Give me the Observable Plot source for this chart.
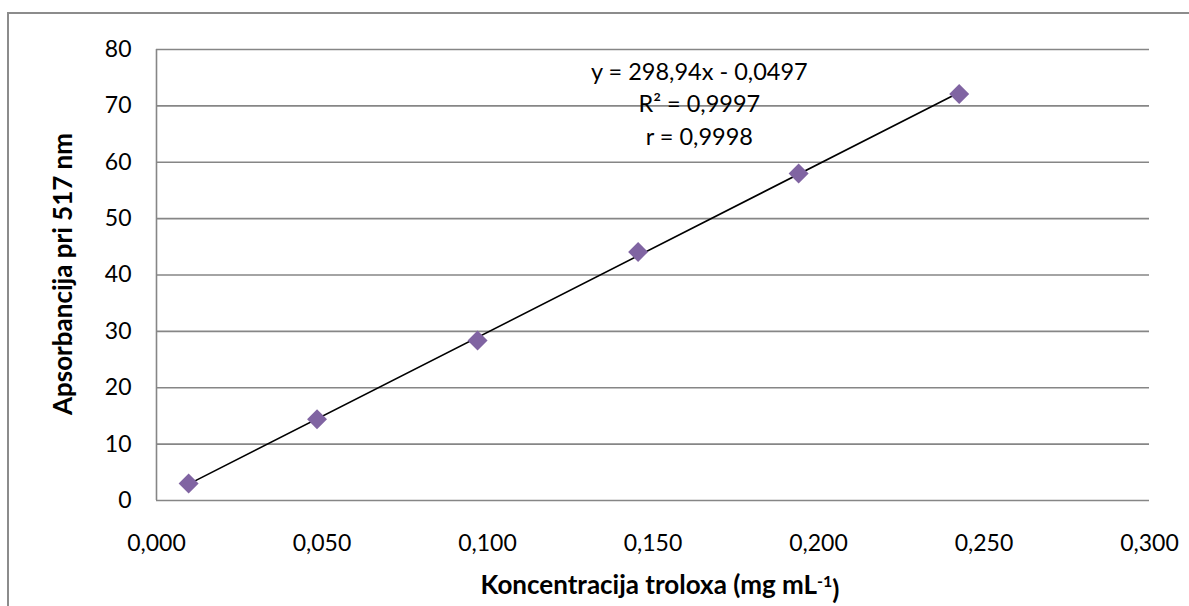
<!DOCTYPE html>
<html>
<head>
<meta charset="utf-8">
<script src="https://cdn.jsdelivr.net/npm/d3@7"></script>
<script src="https://cdn.jsdelivr.net/npm/@observablehq/plot@0.6"></script>
<style>
  html, body { margin: 0; padding: 0; background: #fff; }
  #wrap { position: relative; width: 1189px; height: 606px; overflow: hidden; }
  #frame { position: absolute; left: 7px; top: 12px; right: -10px; bottom: -10px;
           border-top: 2px solid #8c8c8c; border-left: 2px solid #8c8c8c; }
  #chart { position: absolute; left: 0; top: 0; }
</style>
</head>
<body>
<div id="wrap"><div id="frame"></div><div id="chart"></div></div>
<script>
// Data
const concentration = [0.0097, 0.0485, 0.097, 0.1455, 0.194, 0.2425];
const absorbance = [3.0, 14.4, 28.4, 44.1, 58.0, 72.1];
const xTicks = [0, 0.05, 0.10, 0.15, 0.20, 0.25, 0.30];
const yTicks = [0, 10, 20, 30, 40, 50, 60, 70, 80];
const equationLines = ["y = 298,94x - 0,0497", "R² = 0,9997", "r = 0,9998"];
const xTitle = "Koncentracija troloxa (mg mL";
const xTitleSup = "-1";
const yTitle = "Apsorbancija pri 517 nm";

const data = concentration.map((c, i) => ({x: c, y: absorbance[i]}));
const comma = f => v => f(v).replace(".", ",");

const W = 1189, H = 606;
const chart = Plot.plot({
  width: W,
  height: H,
  marginLeft: 156,
  marginRight: 40,
  marginTop: 49,
  marginBottom: 106,
  style: {fontFamily: "Lato, 'Open Sans', sans-serif", fontSize: "23px", color: "#000", background: "transparent"},
  x: {domain: [0, 0.3]},
  y: {domain: [0, 80]},
  marks: [
    Plot.ruleY(yTicks, {stroke: "#868686", strokeWidth: 1.6}),
    Plot.ruleX([0], {stroke: "#868686", strokeWidth: 1.6}),
    Plot.axisX({ticks: xTicks, tickSize: 0, tickPadding: 34, tickFormat: comma(d3.format(".3f")), label: null, fontSize: 23}),
    Plot.axisY({ticks: yTicks, tickSize: 0, tickPadding: 25, tickFormat: d3.format("d"), label: null, fontSize: 23}),
    Plot.linearRegressionY(data, {x: "x", y: "y", stroke: "#000", strokeWidth: 1.6, ci: 0}),
    Plot.dot(data, {x: "x", y: "y", symbol: "diamond2", r: 9, fill: "#8064A2", stroke: "none"}),
    Plot.text([equationLines.join("\n")], {x: 0.164, y: 70.7, text: d => d, fontSize: 23.5, lineHeight: 1.38, textAnchor: "middle", lineAnchor: "middle", fill: "#000"})
  ]
});
document.getElementById("chart").appendChild(chart);

const svg = d3.select(chart);
// x-axis title with superscript
const xt = svg.append("text")
  .attr("x", 660).attr("y", 594)
  .attr("text-anchor", "middle")
  .style("font-family", "Lato, 'Open Sans', sans-serif")
  .style("font-weight", "bold").style("font-size", "26px").attr("fill", "#000");
xt.append("tspan").text(xTitle);
xt.append("tspan").text(xTitleSup).attr("dy", "-0.45em").style("font-size", "16px");
xt.append("tspan").text(")").attr("dy", "0.45em");
// y-axis title rotated
svg.append("text")
  .attr("transform", "translate(72,274) rotate(-90)")
  .attr("text-anchor", "middle")
  .style("font-family", "Lato, 'Open Sans', sans-serif")
  .style("font-weight", "bold").style("font-size", "26px").attr("fill", "#000")
  .text(yTitle);
</script>
</body>
</html>
